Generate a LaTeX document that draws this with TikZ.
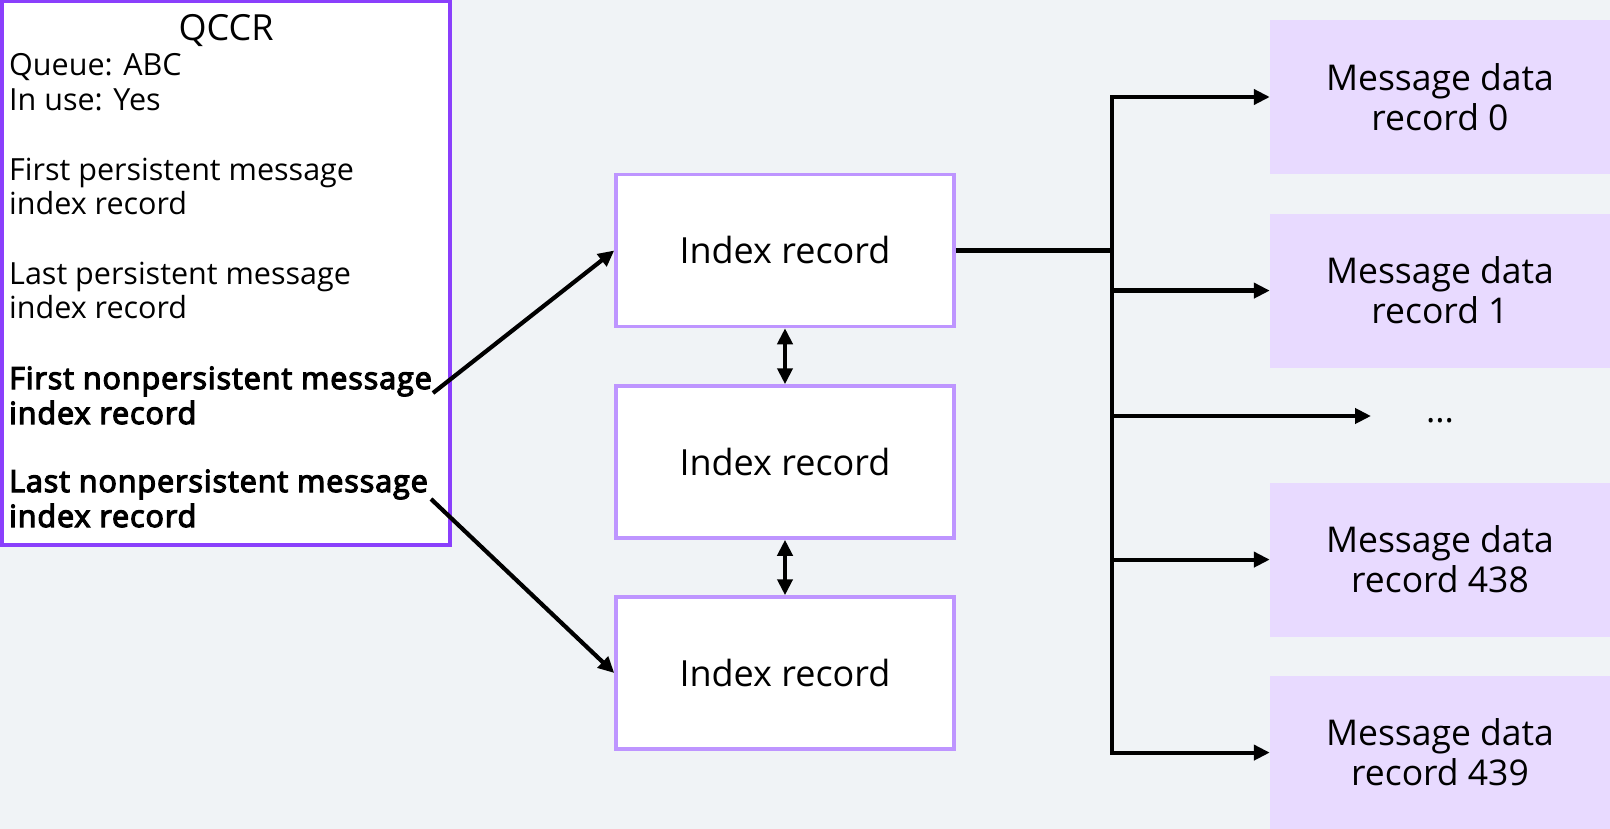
\documentclass[tikz,border=0pt]{standalone}
\usepackage{fontspec}
\setmainfont{Open Sans}[AutoFakeBold=2.5]
\newfontfamily\heavyface{Open Sans}[FakeBold=4, LetterSpace=3]
\usetikzlibrary{arrows.meta}
\definecolor{canvas}{HTML}{F0F3F6}
\definecolor{qccrline}{HTML}{8A3FFC}
\definecolor{idxline}{HTML}{BE95FF}
\definecolor{datafill}{HTML}{E8DAFF}
\tikzset{
  tip/.style={-{Triangle[length=16pt,width=15pt]}},
  bothtips/.style={{Triangle[length=16pt,width=15pt]}-{Triangle[length=16pt,width=15pt]}},
  conn/.style={line width=4.2pt, draw=black},
  qccrbox/.style={draw=qccrline, line width=3.5pt, fill=white, minimum width=448pt, minimum height=544pt, inner sep=0pt},
  idxbox/.style={draw=idxline, line width=3.5pt, fill=white, minimum width=338pt, minimum height=152pt, inner sep=0pt,
    font=\fontsize{36}{40}\selectfont},
  databox/.style={fill=datafill, draw=none, minimum width=340pt, minimum height=154pt, inner sep=0pt, align=center,
    font=\fontsize{35.5}{40}\selectfont},
  qline/.style={anchor=base west, inner sep=0pt, font=\fontsize{30.5}{34}\selectfont},
  qbold/.style={qline, font=\fontsize{30.5}{34}\heavyface},
}
\begin{document}
\begin{tikzpicture}[x=1pt,y=-1pt]
  \useasboundingbox (0,0) rectangle (1610,829);
  \fill[canvas] (0,0) rectangle (1610,829);

  % queue control record
  \node[qccrbox] (qccr) at (226,273) {};
  \node[anchor=base, inner sep=0pt, font=\fontsize{36}{40}\selectfont] (title) at (226,41) {QCCR};
  \node[qline] (l1) at (9,76) {Queue: ABC};
  \node[qline] (l2) at (9,111) {In use: Yes};
  \node[qline] (l3) at (9,181) {First persistent message};
  \node[qline] (l4) at (9,215) {index record};
  \node[qline] (l5) at (9,285) {Last persistent message};
  \node[qline] (l6) at (9,319) {index record};
  \node[qbold] (l7) at (9,389) {First nonpersistent message};
  \node[qbold] (l8) at (9,424) {index record};
  \node[qbold] (l9) at (9,492) {Last nonpersistent message};
  \node[qbold] (l10) at (9,527) {index record};
  \coordinate (firstnp) at (433,393);
  \coordinate (lastnp) at (431,499);

  % index records
  \node[idxbox] (idx1) at (785,250.5) {Index record};
  \node[idxbox] (idx2) at (785,462) {Index record};
  \node[idxbox] (idx3) at (785,673) {Index record};

  % message data records
  \node[databox] (md0) at (1440,97) {Message data\\record 0};
  \node[databox] (md1) at (1440,290.6) {Message data\\record 1};
  \node[anchor=center, inner sep=0pt, font=\fontsize{35}{40}\selectfont] (dots) at (1440,421) {...};
  \node[databox] (md438) at (1440,559.6) {Message data\\record 438};
  \node[databox] (md439) at (1440,752.6) {Message data\\record 439};

  % connectors
  \draw[conn, tip] (firstnp) -- (idx1.west);
  \draw[conn, tip] (lastnp) -- (idx3.west);
  \draw[conn, bothtips] (idx1.south) -- (idx2.north);
  \draw[conn, bothtips] (idx2.south) -- (idx3.north);

  \coordinate (trunk) at (1112,250.5);
  \coordinate (trunktop) at (1112,97);
  \coordinate (trunkbot) at (1112,752.6);
  \coordinate (dotsarrow) at (1371,416);
  \draw[conn] (idx1.east) -- (trunk);
  \draw[conn, line cap=rect] (trunktop) -- (trunkbot);
  \draw[conn, tip] (trunktop) -- (md0.west);
  \draw[conn, tip] (trunk |- md1.west) -- (md1.west);
  \draw[conn, tip] (trunk |- dotsarrow) -- (dotsarrow);
  \draw[conn, tip] (trunk |- md438.west) -- (md438.west);
  \draw[conn, tip] (trunkbot) -- (md439.west);
\end{tikzpicture}
\end{document}
